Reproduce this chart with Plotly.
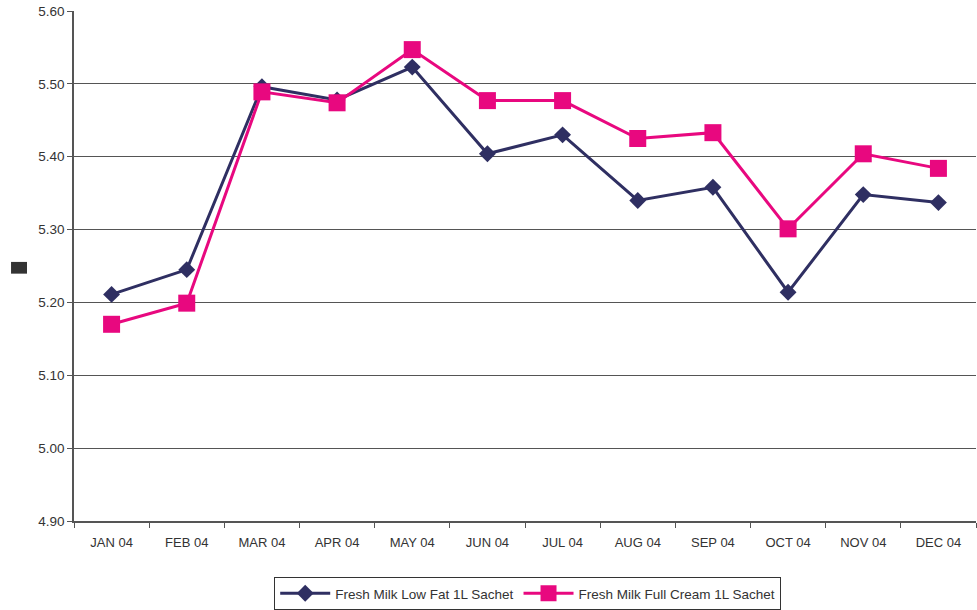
import plotly.graph_objects as go

months = ["JAN 04", "FEB 04", "MAR 04", "APR 04", "MAY 04", "JUN 04",
          "JUL 04", "AUG 04", "SEP 04", "OCT 04", "NOV 04", "DEC 04"]
low_fat = [5.211, 5.245, 5.496, 5.478, 5.523, 5.404, 5.430, 5.340, 5.358, 5.214, 5.348, 5.337]
full_cream = [5.170, 5.199, 5.489, 5.474, 5.547, 5.477, 5.477, 5.425, 5.433, 5.301, 5.404, 5.384]
y_ticks = [4.90, 5.00, 5.10, 5.20, 5.30, 5.40, 5.50, 5.60]

fig = go.Figure()
fig.add_trace(go.Scatter(
    x=months, y=low_fat, name="Fresh Milk Low Fat 1L Sachet",
    mode="lines+markers",
    line=dict(color="#2F2F62", width=3),
    marker=dict(symbol="diamond", size=13, color="#2F2F62"),
))
fig.add_trace(go.Scatter(
    x=months, y=full_cream, name="Fresh Milk Full Cream 1L Sachet",
    mode="lines+markers",
    line=dict(color="#E8087F", width=3),
    marker=dict(symbol="square", size=17, color="#E8087F"),
))

fig.update_layout(
    width=977, height=610,
    margin=dict(l=74, r=1, t=11, b=88),
    plot_bgcolor="white", paper_bgcolor="white",
    font=dict(family="Liberation Sans, Arial, sans-serif", size=12, color="#333333"),
    showlegend=True,
    legend=dict(
        orientation="h", x=0.503, xanchor="center", y=-0.141, yanchor="middle",
        bordercolor="#333333", borderwidth=1, font=dict(size=13.5, color="#333333"),
        itemwidth=50, tracegroupgap=0,
    ),
    xaxis=dict(
        type="category", showgrid=False, showline=True, linecolor="#555555", linewidth=1.5,
        ticks="outside", tickson="boundaries", ticklen=5, tickcolor="#555555",
        tickfont=dict(size=13, color="#333333"), range=[-0.5, 11.5],
        ticklabelstandoff=9,
    ),
    yaxis=dict(
        range=[4.90, 5.60], tickvals=y_ticks, tickformat=".2f",
        showgrid=True, gridcolor="#555555", gridwidth=1,
        showline=True, linecolor="#555555", linewidth=1.5,
        ticks="outside", ticklen=5, tickcolor="#555555",
        tickfont=dict(size=13.5, color="#333333"), zeroline=False,
    ),
    shapes=[dict(type="rect", xref="paper", yref="paper",
                 x0=-0.0698, x1=-0.0521, y0=0.485, y1=0.508,
                 fillcolor="#333333", line=dict(width=0))],
)

fig.write_html("out.html", config={"displayModeBar": False},
               post_script="document.body.style.margin='0';")
